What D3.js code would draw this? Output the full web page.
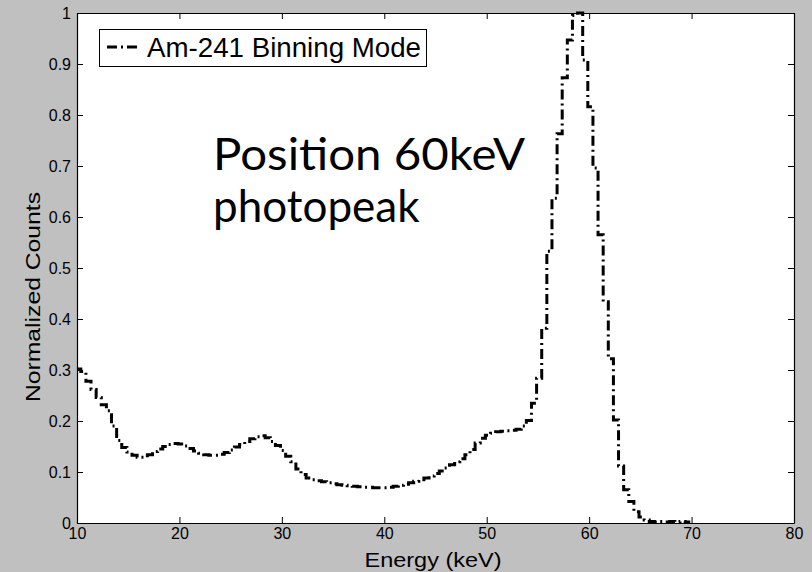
<!DOCTYPE html>
<html><head><meta charset="utf-8">
<script src="https://cdn.jsdelivr.net/npm/d3@7"></script>
<style>body{margin:0;background:#c0c0c0;overflow:hidden} svg{display:block}</style>
</head><body>
<svg id="chart" width="812" height="572"></svg>
<script>
// Bin start energies (keV), drawn as stairs
const energies = [
  9.87,10.37,10.87,11.37,11.87,12.37,12.87,13.37,13.87,14.37,
  14.87,15.37,15.87,16.37,16.87,17.37,17.87,18.37,18.87,19.37,
  19.87,20.37,20.87,21.37,21.87,22.37,22.87,23.37,23.87,24.37,
  24.87,25.37,25.87,26.37,26.87,27.37,27.87,28.37,28.87,29.37,
  29.87,30.37,30.87,31.37,31.87,32.37,32.87,33.37,33.87,34.37,
  34.87,35.37,35.87,36.37,36.87,37.37,37.87,38.37,38.87,39.37,
  39.87,40.37,40.87,41.37,41.87,42.37,42.87,43.37,43.87,44.37,
  44.87,45.37,45.87,46.37,46.87,47.37,47.87,48.37,48.87,49.37,
  49.87,50.37,50.87,51.37,51.87,52.37,52.87,53.37,53.87,54.37,
  54.87,55.37,55.87,56.37,56.87,57.37,57.87,58.37,58.87,59.37,
  59.87,60.37,60.87,61.37,61.87,62.37,62.87,63.37,63.87,64.37,
  64.87,65.37,65.87,66.37,66.87,67.37,67.87,68.37,68.87,69.37,
  69.87
];
// Normalized counts, Am-241 binning mode
const counts = [
  0.302,0.297,0.278,0.262,0.246,0.232,0.220,0.190,0.162,0.148,
  0.139,0.133,0.129,0.129,0.134,0.140,0.145,0.150,0.154,0.156,
  0.155,0.151,0.146,0.141,0.137,0.134,0.133,0.133,0.135,0.138,
  0.143,0.149,0.154,0.160,0.165,0.169,0.171,0.167,0.160,0.152,
  0.142,0.131,0.120,0.106,0.095,0.088,0.085,0.083,0.081,0.079,
  0.077,0.075,0.074,0.073,0.072,0.071,0.070,0.070,0.069,0.069,
  0.069,0.070,0.072,0.074,0.076,0.079,0.082,0.085,0.088,0.092,
  0.097,0.102,0.108,0.114,0.120,0.126,0.134,0.144,0.157,0.166,
  0.172,0.176,0.179,0.180,0.181,0.182,0.184,0.190,0.201,0.235,
  0.284,0.382,0.533,0.637,0.763,0.873,0.947,0.995,1.000,0.908,
  0.816,0.696,0.565,0.434,0.322,0.202,0.112,0.065,0.042,0.022,
  0.012,0.006,0.003,0.002,0.003,0.002,0.003,0.002,0.003,0.002,
  0.002
];
const xTicks = [10,20,30,40,50,60,70,80];
const xTickLabels = ["10","20","30","40","50","60","70","80"];
const yTicks = [0,0.1,0.2,0.3,0.4,0.5,0.6,0.7,0.8,0.9,1];
const yTickLabels = ["0","0.1","0.2","0.3","0.4","0.5","0.6","0.7","0.8","0.9","1"];
const xDomain = [10,80];
const yDomain = [0,1];
const xTitle = "Energy (keV)";
const yTitle = "Normalized Counts";
const legendLabel = "Am-241 Binning Mode";
const annotationLines = ["Position 60keV","photopeak"];

const svg = d3.select("#chart");
const W = 812, H = 572;
const m = {left:77, right:18, top:13, bottom:49};
const pw = W - m.left - m.right, ph = H - m.top - m.bottom;

svg.append("rect").attr("width",W).attr("height",H).attr("fill","#c0c0c0");

const x = d3.scaleLinear().domain(xDomain).range([m.left, m.left+pw]);
const y = d3.scaleLinear().domain(yDomain).range([m.top+ph, m.top]);

svg.append("rect").attr("x",m.left).attr("y",m.top).attr("width",pw).attr("height",ph).attr("fill","#fff");

svg.append("clipPath").attr("id","clip").append("rect")
  .attr("x",m.left).attr("y",m.top-2).attr("width",pw).attr("height",ph+2);

const data = energies.map((e,i)=>({e, v:counts[i]}));
const line = d3.line().x(d=>x(d.e)).y(d=>y(d.v)).curve(d3.curveStepAfter);

svg.append("path").datum(data)
  .attr("clip-path","url(#clip)")
  .attr("d",line)
  .attr("fill","none").attr("stroke","#000").attr("stroke-width",3)
  .attr("stroke-dasharray","10,4,2,4");

const font = "Liberation Sans, Arial, sans-serif";
// Axes
const gx = svg.append("g").attr("transform",`translate(0,${m.top+ph})`)
  .call(d3.axisBottom(x).tickValues(xTicks).tickFormat((d,i)=>xTickLabels[i]).tickSizeInner(-6).tickSizeOuter(0).tickPadding(5));
const gxt = svg.append("g").attr("transform",`translate(0,${m.top})`)
  .call(d3.axisTop(x).tickValues(xTicks).tickFormat("").tickSizeInner(-6).tickSizeOuter(0));
const gy = svg.append("g").attr("transform",`translate(${m.left},0)`)
  .call(d3.axisLeft(y).tickValues(yTicks).tickFormat((d,i)=>yTickLabels[i]).tickSizeInner(-6).tickSizeOuter(0).tickPadding(10));
const gyr = svg.append("g").attr("transform",`translate(${m.left+pw},0)`)
  .call(d3.axisRight(y).tickValues(yTicks).tickFormat("").tickSizeInner(-6).tickSizeOuter(0));
[gx,gxt,gy,gyr].forEach(g=>{
  g.selectAll(".domain").attr("stroke","#000").attr("stroke-width",1.2);
  g.selectAll(".tick line").attr("stroke","#000").attr("stroke-width",1);
  g.selectAll("text").attr("font-family",font).attr("font-size",16).attr("fill","#000");
});
gy.selectAll(".tick text").attr("dx",4);

// Titles
svg.append("text").attr("x",433).attr("y",567).attr("text-anchor","middle")
  .attr("font-family",font).attr("font-size",21)
  .attr("textLength",137).attr("lengthAdjust","spacingAndGlyphs").text(xTitle);
svg.append("text").attr("transform",`translate(40,297) rotate(-90)`).attr("text-anchor","middle")
  .attr("font-family",font).attr("font-size",21)
  .attr("textLength",210).attr("lengthAdjust","spacingAndGlyphs").text(yTitle);

// Legend
const lg = svg.append("g");
lg.append("rect").attr("x",99.5).attr("y",29.5).attr("width",327).attr("height",37)
  .attr("fill","#fff").attr("stroke","#000").attr("stroke-width",1);
lg.append("line").attr("x1",107).attr("x2",139).attr("y1",47).attr("y2",47)
  .attr("stroke","#000").attr("stroke-width",3).attr("stroke-dasharray","10,4,2,4");
lg.append("text").attr("x",147).attr("y",57).attr("font-family",font).attr("font-size",27)
  .attr("textLength",274).attr("lengthAdjust","spacingAndGlyphs").text(legendLabel);

// Annotation
const ann = svg.append("text").attr("font-family","Lato, Carlito, sans-serif").attr("font-size",44).attr("fill","#000");
annotationLines.forEach((t,i)=>{
  const ts = ann.append("tspan").attr("x",213).attr("y",170 + i*52).text(t);
  if (i === 0) ts.attr("textLength",312).attr("lengthAdjust","spacingAndGlyphs");
});
</script>
</body></html>
